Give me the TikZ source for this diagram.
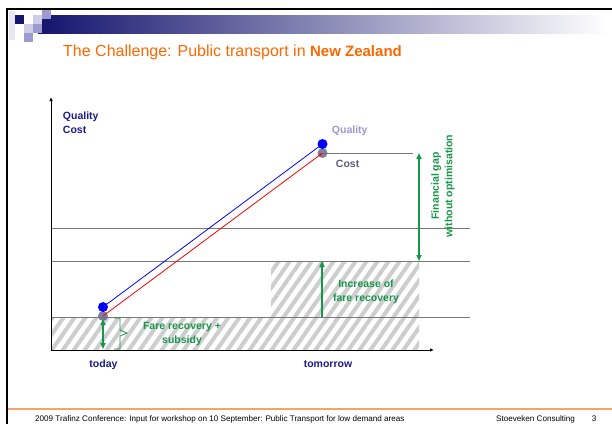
\documentclass[tikz,border=0pt]{standalone}
\usepackage{fontspec}
\setmainfont{Liberation Sans}
\usepackage{xcolor}
\usepackage{tikz}
\usetikzlibrary{patterns.meta,arrows.meta}

\definecolor{tnavy}{RGB}{26,26,140}
\definecolor{tbar}{RGB}{20,20,110}
\definecolor{tsqlight}{RGB}{205,205,232}
\definecolor{tsqmid}{RGB}{155,155,205}
\definecolor{tgreen}{RGB}{22,150,72}
\definecolor{torange}{RGB}{255,102,0}
\definecolor{tfoot}{RGB}{248,160,110}
\definecolor{tdot}{RGB}{105,105,140}
\definecolor{tlav}{RGB}{153,153,204}
\definecolor{tcost}{RGB}{90,90,130}
\definecolor{thatch}{RGB}{205,205,205}
\definecolor{tgrid}{RGB}{120,120,120}

\tikzset{
  lbl/.style={inner sep=0.75pt, font=\fontsize{10.5}{13.5}\selectfont\bfseries, align=center},
  hatchbox/.style={pattern={Lines[angle=55,distance=9pt,line width=4pt]}, pattern color=thatch},
  gline/.style={draw=tgrid, line width=0.8pt},
  gtip/.style={tgreen, line width=1.6pt},
}

\begin{document}
\begin{tikzpicture}[x=1pt,y=1pt,yscale=-1,xscale=1]
\useasboundingbox (0,0) rectangle (612,424);

%Shape: Frame
\draw [line width=2pt] (7,424) -- (7,9) -- (612,9) ;
%Shape: Title bar
\shade [left color=tbar, right color=white] (38,15) rectangle (608,33) ;
%Shape: Logo squares
\fill [tsqlight!50] (9,11) rectangle (15,40) ;
\fill [tbar] (15,15) rectangle +(9,9) ;
\fill [tsqlight] (33,15) rectangle +(9,9) ;
\fill [tsqmid] (42,10) rectangle +(9,9) ;
\fill [tsqlight] (24,24) rectangle +(9,9) ;
\fill [tsqmid] (33,24) rectangle +(9,9) ;
\fill [tsqmid] (24,33) rectangle +(9,9) ;

% Text Node
\draw (63,56) node [anchor=base west][inner sep=0pt][font=\fontsize{16}{19}\selectfont, text=torange] (title) {The Challenge: Public transport in \textbf{\fontsize{15}{18}\selectfont New Zealand}};

%Shape: Hatched areas
\path [hatchbox] (51,317) rectangle (419,350) ;
\path [hatchbox] (271,261) rectangle (419,317) ;

%Shape: Grid lines
\coordinate (gapTop) at (419,153) ;
\coordinate (gapBot) at (419,261) ;
\coordinate (fareTop) at (322,261) ;
\coordinate (fareBot) at (322,317) ;
\coordinate (origin) at (51,350) ;
\draw [gline] (322,153) -- (413,153) ;
\draw [gline] (51,228) -- (470,228) ;
\draw [gline] (51,261) -- (470,261) ;
\draw [gline] (51,317) -- (470,317) ;

%Shape: Axis 2D
\draw [line width=0.9pt, -{Latex[length=4pt,width=3.5pt]}] (origin) -- (51,97) ;
\draw [line width=0.9pt, -{Latex[length=4pt,width=3.5pt]}] (origin) -- (434,350) ;

%Shape: Dots
\coordinate (qToday) at (103,307) ;
\coordinate (cToday) at (103,316) ;
\coordinate (qTom) at (322.5,144) ;
\coordinate (cTom) at (322.5,153) ;
\fill [tdot, opacity=0.85] (cToday) circle (5) ;
\fill [tdot, opacity=0.85] (cTom) circle (5) ;
\fill [blue] (qToday) circle (5) ;
\fill [blue] (qTom) circle (5) ;
\draw [blue, line width=0.8pt] (qToday) -- (qTom) ;
\draw [red, line width=0.8pt, -{Stealth[length=4pt,width=3pt]}] (cToday) -- (cTom) ;

%Shape: Green arrows
\draw [gtip, {Triangle[length=6pt,width=5pt]}-{Triangle[length=6pt,width=5pt]}] (gapTop) -- (gapBot) ;
\draw [gtip, -{Triangle[length=6pt,width=5pt]}] (fareBot) -- (fareTop) ;
\draw [gtip, {Triangle[length=6pt,width=5pt]}-{Triangle[length=6pt,width=5pt]}] (103,319) -- (103,349) ;
%Shape: Brace
\draw [tgreen, line width=0.8pt] (114,318) -- (120,318) -- (120,330) -- (127,333) -- (120,336) -- (120,349) -- (114,349) ;

% Text Node
\draw (62,122.5) node [anchor=west][lbl, align=left, text=tnavy] (axisY) {Quality\\Cost};
% Text Node
\draw (331,133) node [anchor=base west][lbl, text=tlav] (qLabel) {Quality};
% Text Node
\draw (335,167) node [anchor=base west][lbl, text=tcost] (cLabel) {Cost};
% Text Node
\draw (443,186) node [rotate=90][lbl, text=tgreen] (gapLabel) {Financial gap\\without optimisation};
% Text Node
\draw (366,292) node [lbl, text=tgreen] (fareLabel) {Increase of\\fare recovery};
% Text Node
\draw (182,334) node [lbl, text=tgreen] (subLabel) {Fare recovery +\\subsidy};
% Text Node
\draw (103.5,367) node [anchor=base][lbl, text=tnavy] (today) {today};
% Text Node
\draw (328,367) node [anchor=base][lbl, text=tnavy] (tomorrow) {tomorrow};

%Shape: Footer
\draw [tfoot, line width=1.2pt] (8,409) -- (612,409) ;
% Text Node
\draw (35,421) node [anchor=base west][inner sep=0pt][font=\fontsize{8.1}{10}\selectfont] (foot) {2009 Trafinz Conference: Input for workshop on 10 September: Public Transport for low demand areas};
% Text Node
\draw (496,421) node [anchor=base west][inner sep=0pt][font=\fontsize{8.1}{10}\selectfont] (firm) {Stoeveken Consulting};
% Text Node
\draw (594,421) node [anchor=base][inner sep=0pt][font=\fontsize{8.1}{10}\selectfont] (page) {3};
\end{tikzpicture}
\end{document}
